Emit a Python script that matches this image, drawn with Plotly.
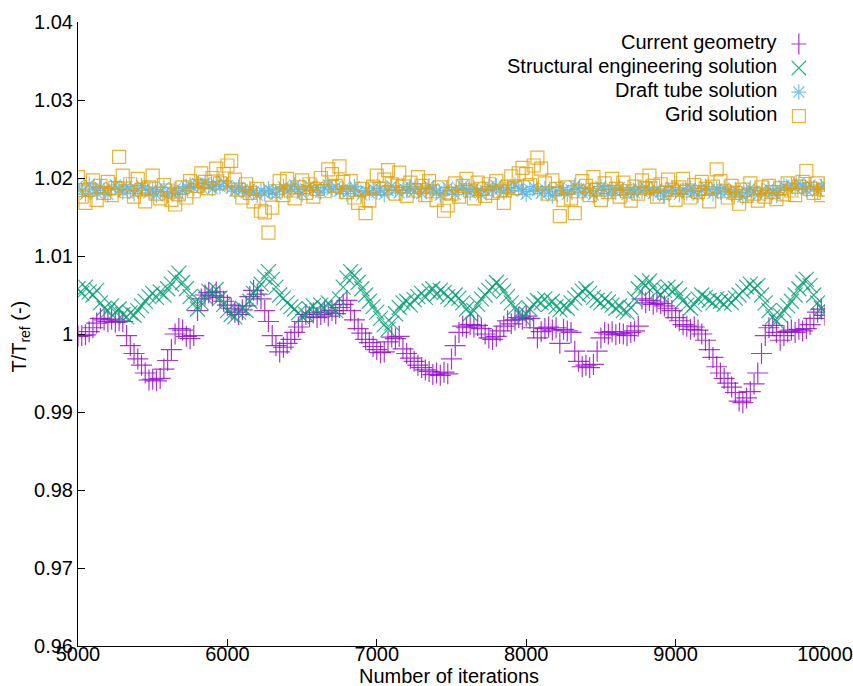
import plotly.graph_objects as go

iterations = list(range(5000, 10001, 25))

current_geometry = [
    0.9997, 0.9998, 0.9999, 1.0003, 1.0008, 1.0014, 1.0020, 1.0018,
    1.0016, 1.0019, 1.0015, 1.0017, 1.0016, 0.9998, 0.9985, 0.9975,
    0.9968, 0.9960, 0.9950, 0.9941, 0.9942, 0.9940, 0.9943, 0.9955,
    0.9966, 0.9980, 1.0000, 1.0007, 1.0005, 0.9997, 0.9994, 0.9998,
    1.0030, 1.0045, 1.0050, 1.0053, 1.0049, 1.0054, 1.0047, 1.0042,
    1.0037, 1.0033, 1.0028, 1.0025, 1.0031, 1.0036, 1.0048, 1.0056,
    1.0051, 1.0045, 1.0030, 1.0016, 0.9998, 0.9985, 0.9977, 0.9983,
    0.9988, 0.9993, 1.0002, 1.0009, 1.0016, 1.0025, 1.0022, 1.0027,
    1.0021, 1.0025, 1.0028, 1.0023, 1.0030, 1.0026, 1.0034, 1.0038,
    1.0043, 1.0030, 1.0018, 1.0007, 1.0001, 0.9993, 0.9989, 0.9984,
    0.9980, 0.9976, 0.9977, 0.9990, 0.9996, 0.9994, 0.9997, 0.9981,
    0.9975, 0.9969, 0.9965, 0.9960, 0.9957, 0.9954, 0.9952, 0.9948,
    0.9950, 0.9947, 0.9951, 0.9949, 0.9968, 0.9985, 1.0002, 1.0010,
    1.0008, 1.0012, 1.0009, 1.0011, 1.0007, 1.0000, 0.9995, 0.9993,
    0.9997, 1.0004, 1.0010, 1.0017, 1.0013, 1.0018, 1.0021, 1.0019,
    1.0023, 1.0020, 1.0008, 0.9995, 1.0003, 1.0007, 1.0009, 1.0005,
    1.0008, 0.9988, 1.0006, 1.0004, 1.0002, 0.9978, 0.9965, 0.9958,
    0.9960, 0.9957, 0.9961, 0.9978, 0.9995, 1.0002, 1.0000, 1.0003,
    0.9999, 1.0001, 1.0000, 0.9998, 1.0002, 1.0004, 1.0010, 1.0045,
    1.0040, 1.0043, 1.0038, 1.0041, 1.0039, 1.0036, 1.0033, 1.0030,
    1.0021, 1.0017, 1.0012, 1.0010, 1.0006, 1.0009, 1.0005, 1.0000,
    0.9992, 0.9980, 0.9970, 0.9958, 0.9950, 0.9943, 0.9937, 0.9932,
    0.9925, 0.9914, 0.9912, 0.9918, 0.9926, 0.9936, 0.9950, 0.9975,
    0.9998, 1.0008, 1.0011, 1.0002, 0.9992, 0.9998, 1.0003, 1.0005,
    1.0002, 1.0006, 1.0004, 1.0007, 1.0012, 1.0020, 1.0028, 1.0032,
    1.0024,
]

structural_engineering = [
    1.0058, 1.0052, 1.0060, 1.0054, 1.0050, 1.0056, 1.0040, 1.0033,
    1.0030, 1.0036, 1.0028, 1.0032, 1.0025, 1.0022, 1.0027, 1.0024,
    1.0030, 1.0036, 1.0042, 1.0048, 1.0052, 1.0047, 1.0054, 1.0050,
    1.0058, 1.0064, 1.0072, 1.0078, 1.0066, 1.0058, 1.0048, 1.0040,
    1.0032, 1.0040, 1.0048, 1.0055, 1.0052, 1.0057, 1.0046, 1.0038,
    1.0030, 1.0025, 1.0022, 1.0028, 1.0033, 1.0030, 1.0042, 1.0052,
    1.0058, 1.0064, 1.0073, 1.0080, 1.0070, 1.0060, 1.0050, 1.0046,
    1.0040, 1.0035, 1.0032, 1.0027, 1.0022, 1.0025, 1.0032, 1.0036,
    1.0030, 1.0037, 1.0033, 1.0040, 1.0034, 1.0030, 1.0045, 1.0060,
    1.0072, 1.0080, 1.0075, 1.0066, 1.0058, 1.0050, 1.0042, 1.0035,
    1.0028, 1.0020, 1.0012, 1.0006, 1.0014, 1.0026, 1.0034, 1.0040,
    1.0042, 1.0037, 1.0044, 1.0048, 1.0052, 1.0047, 1.0055, 1.0058,
    1.0051, 1.0056, 1.0053, 1.0048, 1.0044, 1.0050, 1.0046, 1.0040,
    1.0032, 1.0026, 1.0030, 1.0038, 1.0045, 1.0050, 1.0056, 1.0060,
    1.0066, 1.0062, 1.0055, 1.0048, 1.0040, 1.0034, 1.0027, 1.0021,
    1.0026, 1.0032, 1.0038, 1.0043, 1.0040, 1.0045, 1.0038, 1.0042,
    1.0035, 1.0031, 1.0036, 1.0033, 1.0040, 1.0046, 1.0050, 1.0055,
    1.0058, 1.0052, 1.0047, 1.0043, 1.0040, 1.0045, 1.0041, 1.0037,
    1.0033, 1.0036, 1.0030, 1.0028, 1.0034, 1.0045, 1.0058, 1.0066,
    1.0062, 1.0068, 1.0060, 1.0054, 1.0050, 1.0056, 1.0060, 1.0054,
    1.0058, 1.0050, 1.0043, 1.0037, 1.0033, 1.0038, 1.0045, 1.0050,
    1.0047, 1.0043, 1.0040, 1.0045, 1.0042, 1.0038, 1.0044, 1.0040,
    1.0046, 1.0050, 1.0055, 1.0060, 1.0064, 1.0058, 1.0062, 1.0050,
    1.0040, 1.0030, 1.0022, 1.0016, 1.0024, 1.0030, 1.0036, 1.0042,
    1.0050, 1.0058, 1.0066, 1.0070, 1.0062, 1.0050, 1.0040, 1.0033,
    1.0028,
]

draft_tube = [
    1.0190, 1.0183, 1.0179, 1.0192, 1.0186, 1.0181, 1.0188, 1.0184,
    1.0179, 1.0187, 1.0191, 1.0185, 1.0182, 1.0189, 1.0186, 1.0180,
    1.0184, 1.0190, 1.0187, 1.0181, 1.0185, 1.0178, 1.0183, 1.0188,
    1.0177, 1.0182, 1.0186, 1.0179, 1.0184, 1.0189, 1.0191, 1.0187,
    1.0193, 1.0188, 1.0194, 1.0190, 1.0186, 1.0192, 1.0189, 1.0195,
    1.0190, 1.0187, 1.0183, 1.0188, 1.0185, 1.0181, 1.0186, 1.0182,
    1.0178, 1.0184, 1.0180, 1.0186, 1.0182, 1.0179, 1.0185, 1.0189,
    1.0183, 1.0187, 1.0191, 1.0185, 1.0180, 1.0186, 1.0190, 1.0184,
    1.0188, 1.0182, 1.0187, 1.0191, 1.0185, 1.0189, 1.0183, 1.0186,
    1.0180, 1.0185, 1.0189, 1.0183, 1.0178, 1.0184, 1.0181, 1.0187,
    1.0182, 1.0186, 1.0179, 1.0184, 1.0190, 1.0185, 1.0181, 1.0188,
    1.0184, 1.0189, 1.0183, 1.0187, 1.0180, 1.0185, 1.0190, 1.0186,
    1.0182, 1.0178, 1.0184, 1.0188, 1.0183, 1.0179, 1.0186, 1.0190,
    1.0185, 1.0181, 1.0187, 1.0183, 1.0178, 1.0184, 1.0189, 1.0185,
    1.0190, 1.0186, 1.0182, 1.0188, 1.0184, 1.0191, 1.0187, 1.0183,
    1.0179, 1.0185, 1.0189, 1.0184, 1.0180, 1.0186, 1.0182, 1.0177,
    1.0183, 1.0188, 1.0184, 1.0179, 1.0185, 1.0190, 1.0186, 1.0181,
    1.0187, 1.0183, 1.0178, 1.0184, 1.0189, 1.0185, 1.0180, 1.0186,
    1.0182, 1.0188, 1.0184, 1.0179, 1.0185, 1.0181, 1.0187, 1.0183,
    1.0188, 1.0184, 1.0180, 1.0186, 1.0182, 1.0177, 1.0183, 1.0188,
    1.0184, 1.0179, 1.0185, 1.0181, 1.0187, 1.0183, 1.0178, 1.0184,
    1.0189, 1.0185, 1.0180, 1.0186, 1.0182, 1.0187, 1.0183, 1.0179,
    1.0185, 1.0181, 1.0176, 1.0182, 1.0187, 1.0183, 1.0178, 1.0184,
    1.0180, 1.0186, 1.0182, 1.0178, 1.0184, 1.0190, 1.0186, 1.0191,
    1.0187, 1.0193, 1.0189, 1.0185, 1.0191, 1.0187, 1.0183, 1.0189,
    1.0192,
]

grid_solution = [
    1.0201, 1.0176, 1.0168, 1.0185, 1.0197, 1.0172, 1.0190, 1.0181,
    1.0195, 1.0178, 1.0187, 1.0227, 1.0203, 1.0183, 1.0192, 1.0176,
    1.0199, 1.0185, 1.0170, 1.0188, 1.0203, 1.0180, 1.0174, 1.0191,
    1.0184, 1.0172, 1.0166, 1.0179, 1.0188, 1.0175, 1.0196, 1.0183,
    1.0190, 1.0206, 1.0195, 1.0187, 1.0200, 1.0212, 1.0193, 1.0205,
    1.0216, 1.0222, 1.0198, 1.0185, 1.0175, 1.0192, 1.0181, 1.0170,
    1.0186, 1.0158, 1.0156, 1.0130, 1.0162, 1.0183, 1.0196, 1.0178,
    1.0199, 1.0184, 1.0174, 1.0188, 1.0197, 1.0181, 1.0192, 1.0176,
    1.0186, 1.0200, 1.0183, 1.0211, 1.0205, 1.0190, 1.0215, 1.0195,
    1.0182, 1.0196, 1.0175, 1.0168, 1.0186, 1.0155, 1.0171, 1.0189,
    1.0203, 1.0186, 1.0198, 1.0210, 1.0192, 1.0180, 1.0207, 1.0189,
    1.0177, 1.0194, 1.0184, 1.0201, 1.0190, 1.0178, 1.0196, 1.0183,
    1.0172, 1.0188, 1.0158, 1.0165, 1.0180, 1.0193, 1.0176, 1.0190,
    1.0199, 1.0184, 1.0174, 1.0194, 1.0186, 1.0177, 1.0192, 1.0181,
    1.0196, 1.0183, 1.0168, 1.0189, 1.0202, 1.0187, 1.0206, 1.0213,
    1.0205, 1.0191, 1.0216, 1.0226, 1.0212, 1.0193, 1.0180, 1.0197,
    1.0186, 1.0151, 1.0172, 1.0188, 1.0174, 1.0155, 1.0183, 1.0196,
    1.0190, 1.0178, 1.0201, 1.0185, 1.0172, 1.0193, 1.0182, 1.0199,
    1.0186, 1.0176, 1.0194, 1.0183, 1.0171, 1.0189, 1.0180, 1.0197,
    1.0187, 1.0203, 1.0190, 1.0176, 1.0192, 1.0181, 1.0198, 1.0185,
    1.0172, 1.0188, 1.0199, 1.0184, 1.0175, 1.0191, 1.0182, 1.0195,
    1.0186, 1.0170, 1.0189, 1.0211, 1.0196, 1.0183, 1.0175, 1.0190,
    1.0181, 1.0167, 1.0185, 1.0177, 1.0193, 1.0180, 1.0171, 1.0188,
    1.0176, 1.0190, 1.0182, 1.0173, 1.0187, 1.0179, 1.0193, 1.0184,
    1.0178, 1.0189, 1.0195, 1.0209, 1.0186, 1.0181, 1.0193, 1.0178,
    1.0185,
]

series_names = ["Current geometry", "Structural engineering solution",
                "Draft tube solution", "Grid solution"]
series_values = [current_geometry, structural_engineering, draft_tube, grid_solution]
series_colors = ["#9400D3", "#009E73", "#56B4E9", "#E69F00"]
series_symbols = ["cross-thin-open", "x-thin-open", "asterisk-open", "square-open"]
series_sizes = [15, 15, 13, 13]

y_tick_vals = [0.96, 0.97, 0.98, 0.99, 1.00, 1.01, 1.02, 1.03, 1.04]
y_tick_text = ["0.96", "0.97", "0.98", "0.99", "1", "1.01", "1.02", "1.03", "1.04"]
x_tick_vals = [5000, 6000, 7000, 8000, 9000, 10000]
x_tick_text = ["5000", "6000", "7000", "8000", "9000", "10000"]

FONT = "Liberation Sans, Arial, Helvetica, sans-serif"

fig = go.Figure()
for name, vals, col, sym, sz in zip(series_names, series_values, series_colors,
                                    series_symbols, series_sizes):
    n = min(len(iterations), len(vals))
    fig.add_trace(go.Scatter(
        x=iterations[:n], y=vals[:n], mode="markers", name=name,
        marker=dict(symbol=sym, size=sz, color=col, opacity=0.8,
                    line=dict(color=col, width=1.2)),
        showlegend=False, hoverinfo="skip",
    ))

# gnuplot-style key: right-aligned text, key symbol to its right.
# Keys live on a small hidden helper axis; one row per series.
rows = list(range(len(series_names)))
fig.add_trace(go.Scatter(
    x=[0] * len(rows), y=rows, mode="markers", xaxis="x2", yaxis="y2",
    marker=dict(symbol=series_symbols, size=series_sizes, color=series_colors,
                opacity=0.8, line=dict(color=series_colors, width=1.2)),
    showlegend=False, hoverinfo="skip",
))
for name, r in zip(series_names, rows):
    fig.add_annotation(xref="paper", yref="y2", x=0.9384, y=r, text=name,
                       showarrow=False, xanchor="right", yanchor="middle",
                       yshift=2,
                       font=dict(family=FONT, size=20, color="#000000"))

# axis titles
fig.add_annotation(xref="paper", yref="paper", x=0.496, y=-0.0481,
                   text="Number of iterations", showarrow=False,
                   xanchor="center", yanchor="middle",
                   font=dict(family=FONT, size=20, color="#000000"))
fig.add_annotation(xref="paper", yref="paper", x=-0.0775, y=0.496,
                   text="T/T<sub>ref</sub> (-)", showarrow=False, textangle=-90,
                   xanchor="center", yanchor="middle",
                   font=dict(family=FONT, size=20, color="#000000"))

fig.update_layout(
    width=853, height=686,
    margin=dict(l=78, r=28, t=22, b=40),
    paper_bgcolor="white", plot_bgcolor="rgba(0,0,0,0)",
    font=dict(family=FONT, size=20, color="#000000"),
    showlegend=False,
    xaxis=dict(
        range=[5000, 10000], tickvals=x_tick_vals, ticktext=x_tick_text,
        showline=True, linecolor="#000000", linewidth=1, mirror=False,
        ticks="inside", ticklen=7, tickcolor="#000000",
        showgrid=False, zeroline=False, ticklabelstandoff=-10,
        automargin=False, fixedrange=True,
    ),
    yaxis=dict(
        range=[0.96, 1.04], tickvals=y_tick_vals, ticktext=y_tick_text,
        showline=True, linecolor="#000000", linewidth=1, mirror=False,
        ticks="inside", ticklen=7, tickcolor="#000000",
        showgrid=False, zeroline=False, ticklabelstandoff=0,
        automargin=False, fixedrange=True,
    ),
    xaxis2=dict(domain=[0.955, 0.975], range=[-1, 1], anchor="y2",
                visible=False, fixedrange=True),
    yaxis2=dict(domain=[0.830, 0.984], range=[3.5, -0.5], anchor="x2",
                visible=False, fixedrange=True),
)

fig.write_html("out.html", config={"displayModeBar": False},
               post_script="document.body.style.margin='0';")
